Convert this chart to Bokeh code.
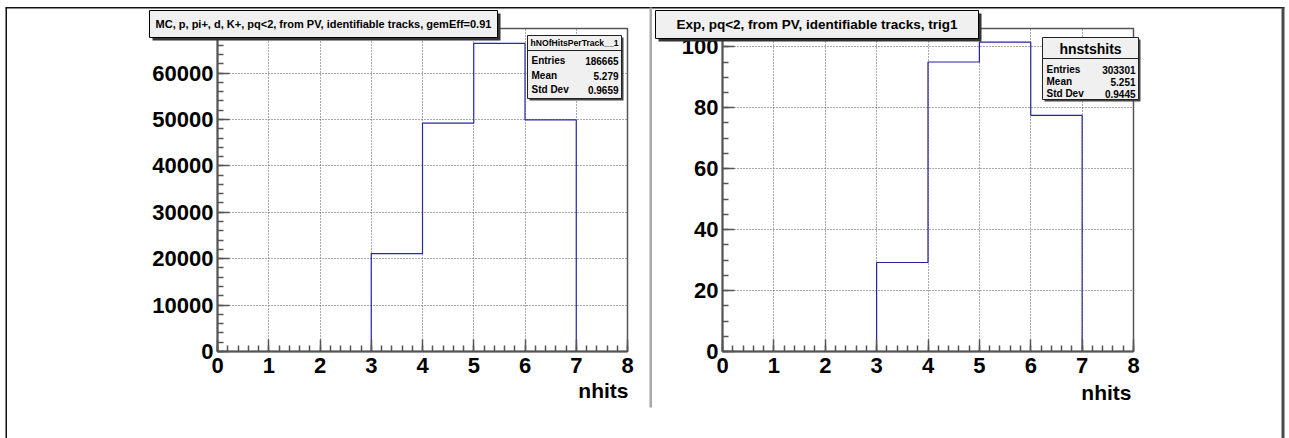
from bokeh.plotting import figure
from bokeh.models import Range1d, SingleIntervalTicker
from bokeh.layouts import row, column
from bokeh.core.properties import value
from bokeh.embed import file_html
from bokeh.resources import INLINE

# ---------------- data ----------------
bin_edges = [3, 4, 5, 6, 7]
mc_counts = [21100, 49200, 66400, 49900]
exp_counts = [29.2, 95.0, 101.5, 77.5]
x_label = "nhits"
mc_title = "MC, p, pi+, d, K+, pq<2, from PV, identifiable tracks, gemEff=0.91"
exp_title = "Exp, pq<2, from PV, identifiable tracks, trig1"
mc_stats_name = "hNOfHitsPerTrack__1"
exp_stats_name = "hnstshits"
stats_labels = ["Entries", "Mean", "Std Dev"]
mc_stats_values = ["186665", "5.279", "0.9659"]
exp_stats_values = ["303301", "5.251", "0.9445"]
x_max = 8
mc_y_max = 69600
exp_y_max = 106

FONT = "Liberation Sans"
W, H = 1289, 438


def step_xy(edges, counts):
    xs, ys = [edges[0]], [0]
    for i, c in enumerate(counts):
        xs += [edges[i], edges[i + 1]]
        ys += [c, c]
    xs.append(edges[-1])
    ys.append(0)
    return xs, ys


def make_fig(width, bl, br, bt, bb, ymax, yint, ynminor):
    p = figure(width=width, height=H, x_range=Range1d(0, x_max), y_range=Range1d(0, ymax),
               output_backend="svg", toolbar_location=None,
               min_border_left=bl, min_border_right=br, min_border_top=bt, min_border_bottom=bb)
    p.background_fill_color = "white"
    p.border_fill_color = "white"
    p.outline_line_color = "#555555"
    p.outline_line_width = 1.5
    p.xaxis.ticker = SingleIntervalTicker(interval=1, num_minor_ticks=5)
    p.yaxis.ticker = SingleIntervalTicker(interval=yint, num_minor_ticks=ynminor)
    for ax in (p.xaxis[0], p.yaxis[0]):
        ax.major_tick_in = 12
        ax.major_tick_out = 0
        ax.minor_tick_in = 6
        ax.minor_tick_out = 0
        ax.axis_line_color = "#555555"
        ax.axis_line_width = 2
        ax.major_tick_line_color = "#555555"
        ax.major_tick_line_width = 1.5
        ax.minor_tick_line_color = "#555555"
        ax.minor_tick_line_width = 1.5
        ax.major_label_text_font = FONT
        ax.major_label_text_font_style = "bold"
        ax.major_label_text_font_size = "22px"
        ax.major_label_text_color = "black"
    p.yaxis.major_label_standoff = 4
    p.xaxis.major_label_standoff = 6
    for g in (p.xgrid[0], p.ygrid[0]):
        g.grid_line_color = "#555555"
        g.grid_line_dash = "1 2"
        g.grid_line_width = 1
    return p


# ---------------- left pad (MC) ----------------
LW = 651
p1 = make_fig(LW, 217, LW - 627, 26, H - 351, mc_y_max, 10000, 5)
xs, ys = step_xy(bin_edges, mc_counts)
p1.line(xs, ys, line_color="#2828a8", line_width=1.2)

# ---------------- right pad (Exp) ----------------
RW = W - LW
OX = LW
p2 = make_fig(RW, 722 - OX, RW - (1133 - OX), 28, H - 355, exp_y_max, 20, 4)
xs, ys = step_xy(bin_edges, exp_counts)
p2.line(xs, ys, line_color="#24249a", line_width=1.2)

# ---------------- overlay for canvas decorations (pixel space) ----------------
d = figure(width=W, height=H, x_range=Range1d(0, W), y_range=Range1d(H, 0),
           output_backend="svg", toolbar_location=None, x_axis_type=None, y_axis_type=None,
           min_border=0, margin=(-H, 0, 0, 0))
d.background_fill_alpha = 0
d.border_fill_alpha = 0
d.outline_line_color = None
d.xgrid.visible = False
d.ygrid.visible = False


def rect(l, r, t, b, fill, line=None, lw=1):
    d.quad(left=[l], right=[r], top=[t], bottom=[b], fill_color=fill,
           line_color=line, line_width=lw)


def txt(x, y, s, size, align="center"):
    d.text(x=[x], y=[y], text=[s], text_font=value(FONT), text_font_style="bold",
           text_font_size=value(size), text_align=align, text_baseline="middle",
           text_color="black")


def pave(l, r, t, b):
    rect(l + 3, r + 3, t + 3, b + 3, "#333333")
    rect(l, r, t, b, "#f0f0f0", "black", 1)


def stats(l, r, t, b, sep, name, name_y, name_size, rows_y, values):
    rect(l + 2, r + 2, t + 2, b + 2, "#444444")
    rect(l, r, t, b, "#f0f0f0", "#222222", 1)
    rect(l, r, sep - 0.5, sep + 0.5, "#222222")
    txt((l + r) / 2, name_y, name, name_size)
    for lab, val, yy in zip(stats_labels, values, rows_y):
        txt(l + 4, yy, lab, "10px", align="left")
        txt(r - 3, yy, val, "10px", align="right")


# canvas borders
rect(5, 1284, 6.5, 8, "#111111")
rect(5, 6.5, 7, H, "#111111")
rect(649, 651.5, 7, 407, "#a8a8a8")
rect(1281, 1284, 7, H, "#4a4a4a")

# left pad texts
pave(149, 497, 10, 37)
txt(323, 23.5, mc_title, "11px")
stats(527, 621, 35, 98, 50, mc_stats_name, 42.5, "8.6px", [60, 75, 89], mc_stats_values)
txt(628, 390, x_label, "21px", align="right")

# right pad texts
pave(655, 978, 10, 38)
txt(816.5, 24, exp_title, "13.5px")
stats(1042, 1138, 37, 99, 58, exp_stats_name, 48, "14px", [69, 81, 93], exp_stats_values)
txt(1131, 392, x_label, "21px", align="right")

layout = column(row(p1, p2, spacing=0), d, spacing=0)
open("out.html", "w").write(file_html(layout, INLINE))
